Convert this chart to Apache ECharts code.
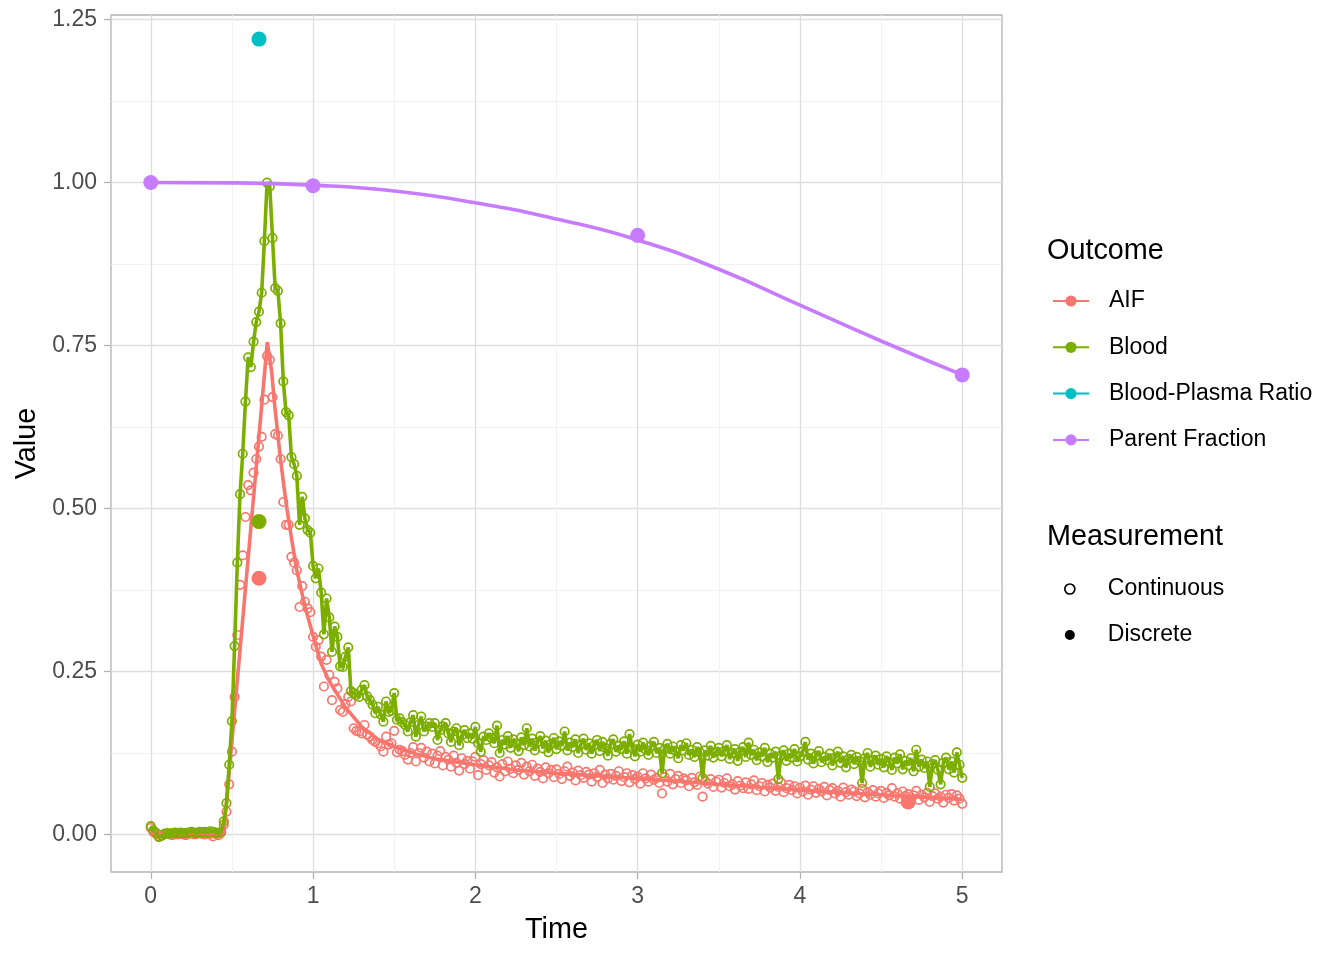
<!DOCTYPE html>
<html>
<head>
<meta charset="utf-8">
<title>AIF, blood and parent fraction</title>
<script src="https://cdn.jsdelivr.net/npm/echarts@6/dist/echarts.min.js"></script>
<style>
html, body { margin: 0; padding: 0; background: #fff; }
#main { width: 1344px; height: 960px; }
</style>
</head>
<body>
<div id="main"></div>
<script>
// continuous sampler: one reading per second, time in minutes
var sampleStart = 0;
var sampleStep = 1 / 60;

var aifContinuous = [
  0.010, 0.004, 0.001, -0.003, -0.001, 0.000, 0.001, 0.000, -0.001, 0.001,
  0.000, 0.001, 0.000, -0.001, 0.001, 0.002, 0.000, 0.001, 0.002, 0.001,
  0.000, 0.002, 0.001, -0.003, 0.001, -0.001, 0.003, 0.015, 0.035, 0.077,
  0.127, 0.211, 0.306, 0.383, 0.428, 0.487, 0.536, 0.528, 0.555, 0.576,
  0.595, 0.610, 0.667, 0.734, 0.728, 0.671, 0.614, 0.612, 0.576, 0.510,
  0.475, 0.475, 0.426, 0.417, 0.405, 0.349, 0.381, 0.357, 0.347, 0.341,
  0.303, 0.288, 0.298, 0.273, 0.227, 0.268, 0.245, 0.206, 0.234, 0.224,
  0.191, 0.188, 0.200, 0.211, 0.204, 0.163, 0.159, 0.158, 0.155, 0.168,
  0.153, 0.150, 0.145, 0.142, 0.140, 0.135, 0.127, 0.150, 0.138, 0.140,
  0.159, 0.126, 0.130, 0.128, 0.122, 0.115, 0.125, 0.134, 0.112, 0.125,
  0.133, 0.118, 0.127, 0.112, 0.124, 0.109, 0.121, 0.128, 0.106, 0.119,
  0.115, 0.104, 0.121, 0.110, 0.098, 0.117, 0.108, 0.113, 0.101, 0.112,
  0.119, 0.091, 0.108, 0.114, 0.099, 0.106, 0.111, 0.095, 0.103, 0.089,
  0.108, 0.097, 0.112, 0.101, 0.094, 0.106, 0.099, 0.110, 0.092, 0.104,
  0.097, 0.107, 0.090, 0.101, 0.096, 0.086, 0.103, 0.094, 0.099, 0.088,
  0.100, 0.093, 0.085, 0.097, 0.104, 0.090, 0.095, 0.083, 0.098, 0.091,
  0.087, 0.096, 0.092, 0.081, 0.094, 0.088, 0.099, 0.079, 0.092, 0.086,
  0.093, 0.084, 0.090, 0.097, 0.082, 0.088, 0.094, 0.080, 0.091, 0.085,
  0.089, 0.078, 0.094, 0.086, 0.081, 0.092, 0.084, 0.087, 0.079, 0.063,
  0.088, 0.081, 0.093, 0.077, 0.085, 0.090, 0.079, 0.086, 0.083, 0.074,
  0.087, 0.080, 0.076, 0.089, 0.058, 0.082, 0.078, 0.085, 0.073, 0.081,
  0.084, 0.072, 0.079, 0.086, 0.074, 0.077, 0.069, 0.082, 0.075, 0.071,
  0.080, 0.070, 0.077, 0.083, 0.068, 0.074, 0.079, 0.066, 0.076, 0.072,
  0.078, 0.067, 0.073, 0.080, 0.065, 0.071, 0.076, 0.068, 0.074, 0.063,
  0.072, 0.066, 0.075, 0.061, 0.069, 0.074, 0.064, 0.070, 0.066, 0.073,
  0.060, 0.068, 0.071, 0.063, 0.067, 0.058, 0.072, 0.065, 0.061, 0.069,
  0.066, 0.059, 0.063, 0.070, 0.057, 0.065, 0.061, 0.068, 0.058, 0.063,
  0.067, 0.056, 0.064, 0.060, 0.071, 0.058, 0.063, 0.055, 0.066, 0.059,
  0.062, 0.054, 0.060, 0.067, 0.053, 0.061, 0.057, 0.064, 0.050, 0.059,
  0.063, 0.055, 0.058, 0.049, 0.061, 0.056, 0.062, 0.052, 0.060, 0.055,
  0.047
];

var bloodContinuous = [
  0.013, 0.006, 0.002, -0.004, -0.002, 0.001, 0.002, 0.001, 0.002, 0.003,
  0.002, 0.003, 0.002, 0.002, 0.003, 0.004, 0.003, 0.002, 0.004, 0.003,
  0.004, 0.003, 0.005, 0.004, 0.003, 0.002, 0.004, 0.020, 0.048, 0.107,
  0.174, 0.289, 0.417, 0.522, 0.584, 0.664, 0.732, 0.717, 0.756, 0.786,
  0.802, 0.831, 0.910, 1.000, 0.994, 0.915, 0.838, 0.834, 0.784, 0.695,
  0.648, 0.643, 0.579, 0.568, 0.550, 0.475, 0.518, 0.485, 0.467, 0.463,
  0.412, 0.393, 0.408, 0.371, 0.307, 0.362, 0.333, 0.280, 0.319, 0.303,
  0.258, 0.257, 0.273, 0.287, 0.220, 0.217, 0.214, 0.211, 0.222, 0.229,
  0.212, 0.206, 0.199, 0.186, 0.196, 0.184, 0.173, 0.204, 0.188, 0.190,
  0.217, 0.176, 0.178, 0.172, 0.168, 0.158, 0.172, 0.183, 0.150, 0.168,
  0.181, 0.158, 0.166, 0.171, 0.165, 0.171, 0.145, 0.160, 0.166, 0.171,
  0.155, 0.142, 0.158, 0.163, 0.137, 0.152, 0.160, 0.148, 0.155, 0.147,
  0.165, 0.140, 0.127, 0.150, 0.145, 0.155, 0.148, 0.140, 0.167, 0.125,
  0.145, 0.138, 0.151, 0.133, 0.146, 0.140, 0.128, 0.149, 0.137, 0.163,
  0.135, 0.147, 0.129, 0.142, 0.151, 0.132, 0.144, 0.126, 0.139, 0.148,
  0.131, 0.143, 0.136, 0.158, 0.129, 0.141, 0.134, 0.146, 0.125, 0.138,
  0.147, 0.130, 0.140, 0.124, 0.137, 0.145, 0.128, 0.142, 0.133, 0.121,
  0.139, 0.146, 0.127, 0.136, 0.131, 0.143, 0.124, 0.154, 0.132, 0.120,
  0.138, 0.127, 0.141, 0.130, 0.122, 0.136, 0.142, 0.125, 0.133, 0.094,
  0.131, 0.139, 0.124, 0.135, 0.128, 0.117, 0.137, 0.129, 0.140, 0.122,
  0.130, 0.119, 0.134, 0.126, 0.087, 0.129, 0.121, 0.136, 0.118, 0.127,
  0.133, 0.120, 0.128, 0.137, 0.116, 0.125, 0.131, 0.113, 0.127, 0.134,
  0.119, 0.141, 0.122, 0.130, 0.114, 0.126, 0.120, 0.133, 0.111, 0.124,
  0.118, 0.127, 0.085, 0.121, 0.129, 0.113, 0.124, 0.118, 0.131, 0.112,
  0.120, 0.127, 0.142, 0.115, 0.124, 0.109, 0.121, 0.128, 0.111, 0.119,
  0.114, 0.124, 0.106, 0.118, 0.127, 0.110, 0.120, 0.103, 0.116, 0.122,
  0.108, 0.119, 0.113, 0.079, 0.117, 0.125, 0.104, 0.114, 0.121, 0.107,
  0.116, 0.103, 0.120, 0.111, 0.099, 0.118, 0.109, 0.123, 0.100, 0.113,
  0.106, 0.117, 0.097, 0.130, 0.104, 0.115, 0.102, 0.112, 0.073, 0.108,
  0.114, 0.099, 0.077, 0.110, 0.118, 0.100, 0.112, 0.095, 0.126, 0.107,
  0.087
];

// fitted AIF curve
var aifFitTime  = [0, 0.45, 0.718, 0.745, 0.76, 0.78, 0.80, 0.82, 0.84, 0.87, 0.90, 0.95, 1.00, 1.05, 1.10, 1.20, 1.30, 1.40, 1.50, 1.60, 1.75, 2.00, 2.25, 2.50, 2.75, 3.00, 3.50, 4.00, 4.50, 5.00];
var aifFitValue = [0.002, 0.002, 0.755, 0.71, 0.667, 0.62, 0.575, 0.535, 0.498, 0.45, 0.405, 0.35, 0.305, 0.262, 0.235, 0.195, 0.165, 0.146, 0.135, 0.126, 0.116, 0.107, 0.099, 0.094, 0.090, 0.086, 0.077, 0.068, 0.061, 0.054];

// fitted parent fraction curve
var parentFitTime  = [0, 0.5, 1, 1.5, 2, 2.5, 3, 3.5, 4, 4.5, 5];
var parentFitValue = [1.0, 0.9995, 0.996, 0.987, 0.969, 0.944, 0.912, 0.867, 0.812, 0.757, 0.705];

// discrete samples
var aifDiscreteTime   = [0.667, 4.667];
var aifDiscreteValue  = [0.393, 0.050];
var bloodDiscreteTime  = [0.667];
var bloodDiscreteValue = [0.480];
var ratioTime  = [0.667];
var ratioValue = [1.220];
var parentTime  = [0, 1, 3, 5];
var parentValue = [1.000, 0.995, 0.919, 0.705];

var xTicks = [0, 1, 2, 3, 4, 5];
var xMinorTicks = [0.5, 1.5, 2.5, 3.5, 4.5];
var yTicks = [0, 0.25, 0.5, 0.75, 1, 1.25];
var yMinorTicks = [0.125, 0.375, 0.625, 0.875, 1.125];

var colAIF = '#F8766D', colBlood = '#7CAE00', colRatio = '#00BFC4', colParent = '#C77CFF';
var fontFam = '"Liberation Sans", Arial, Helvetica, sans-serif';
var lineW = 3.6;

function pairs(xs, ys) {
    return ys.map(function (v, i) { return [xs[i], v]; });
}
var contTime = aifContinuous.map(function (v, i) { return sampleStart + i * sampleStep; });

var xMin = -0.245, xMax = 5.245, yMin = -0.0575, yMax = 1.257;

var myChart = echarts.init(document.getElementById('main'));

var option = {
    animation: false,
    backgroundColor: '#fff',
    textStyle: { fontFamily: fontFam },
    grid: {
        left: 111, top: 15, width: 891, height: 857,
        show: true, backgroundColor: '#fff',
        borderColor: '#B3B3B3', borderWidth: 1.3
    },
    xAxis: [{
        type: 'value', min: xMin, max: xMax,
        name: 'Time', nameLocation: 'middle', nameGap: 44,
        nameTextStyle: { fontSize: 28.8, color: '#000', fontFamily: fontFam },
        axisLine: { show: false, onZero: false },
        axisTick: { show: true, length: 7, customValues: xTicks, lineStyle: { color: '#B3B3B3', width: 1.3 } },
        axisLabel: { customValues: xTicks, fontSize: 23, color: '#4D4D4D', margin: 13, fontFamily: fontFam },
        splitLine: { show: true, lineStyle: { color: '#DEDEDE', width: 1.3 } }
    }, {
        // minor grid
        type: 'value', min: xMin, max: xMax, position: 'bottom',
        axisLine: { show: false, onZero: false },
        axisTick: { show: false, customValues: xMinorTicks },
        axisLabel: { show: false, customValues: xMinorTicks },
        splitLine: { show: true, lineStyle: { color: '#EFEFEF', width: 0.9 } }
    }],
    yAxis: [{
        type: 'value', min: yMin, max: yMax,
        name: 'Value', nameLocation: 'middle', nameGap: 67,
        nameTextStyle: { fontSize: 28.8, color: '#000', fontFamily: fontFam },
        axisLine: { show: false, onZero: false },
        axisTick: { show: true, length: 7, customValues: yTicks, lineStyle: { color: '#B3B3B3', width: 1.3 } },
        axisLabel: {
            customValues: yTicks, fontSize: 23, color: '#4D4D4D', margin: 14, fontFamily: fontFam,
            lineHeight: 27, verticalAlign: 'middle', padding: [5, 0, 0, 0],
            formatter: function (v) { return v.toFixed(2); }
        },
        splitLine: { show: true, lineStyle: { color: '#DEDEDE', width: 1.3 } }
    }, {
        type: 'value', min: yMin, max: yMax, position: 'left',
        axisLine: { show: false, onZero: false },
        axisTick: { show: false, customValues: yMinorTicks },
        axisLabel: { show: false, customValues: yMinorTicks },
        splitLine: { show: true, lineStyle: { color: '#EFEFEF', width: 0.9 } }
    }],
    legend: [{
        orient: 'vertical', left: 1052, top: 289.5, padding: 0,
        itemGap: 23.3, itemWidth: 36, itemHeight: 14, selectedMode: false,
        data: ['AIF', 'Blood', 'Blood-Plasma Ratio', 'Parent Fraction'],
        textStyle: { fontSize: 23, lineHeight: 23, color: '#000', fontFamily: fontFam, padding: [0, 0, 0, 15] }
    }, {
        orient: 'vertical', left: 1064, top: 577.5, padding: 0,
        itemGap: 23, itemWidth: 36, itemHeight: 10, selectedMode: false,
        data: [
            { name: 'Continuous', icon: 'circle', itemStyle: { color: 'rgba(0,0,0,0)', borderColor: '#000', borderWidth: 1.7, opacity: 1 } },
            { name: 'Discrete', icon: 'circle', itemStyle: { color: '#000', borderWidth: 0, opacity: 1 } }
        ],
        textStyle: { fontSize: 23, lineHeight: 23, color: '#000', fontFamily: fontFam, padding: [0, 0, 0, 15] }
    }],
    graphic: [
        { type: 'text', x: 1047, y: 251, style: { text: 'Outcome', fontSize: 28.8, fontFamily: fontFam, fill: '#000', verticalAlign: 'middle' } },
        { type: 'text', x: 1047, y: 537, style: { text: 'Measurement', fontSize: 28.8, fontFamily: fontFam, fill: '#000', verticalAlign: 'middle' } }
    ],
    series: [
        {
            name: 'AIF', type: 'line', data: pairs(aifFitTime, aifFitValue),
            symbol: 'circle', showSymbol: false, z: 3, silent: true,
            lineStyle: { width: lineW, color: colAIF }, itemStyle: { color: colAIF }
        },
        {
            name: 'Blood', type: 'line', data: pairs(contTime, bloodContinuous),
            symbol: 'circle', showSymbol: false, z: 3, silent: true,
            lineStyle: { width: lineW, color: colBlood }, itemStyle: { color: colBlood }
        },
        {
            name: 'Blood-Plasma Ratio', type: 'line', data: pairs(ratioTime, ratioValue),
            symbol: 'circle', symbolSize: 15, showSymbol: true, z: 4, silent: true,
            lineStyle: { width: lineW, color: colRatio }, itemStyle: { color: colRatio }
        },
        {
            name: 'Parent Fraction', type: 'line', smooth: true, data: pairs(parentFitTime, parentFitValue),
            symbol: 'circle', showSymbol: false, z: 3, silent: true,
            lineStyle: { width: lineW, color: colParent }, itemStyle: { color: colParent }
        },
        {
            name: 'Continuous', type: 'scatter', data: pairs(contTime, aifContinuous),
            symbol: 'circle', symbolSize: 8.5, z: 2, silent: true,
            itemStyle: { color: 'rgba(0,0,0,0)', borderColor: colAIF, borderWidth: 1.7, opacity: 1 }
        },
        {
            name: 'Continuous', type: 'scatter', data: pairs(contTime, bloodContinuous),
            symbol: 'circle', symbolSize: 8.5, z: 2, silent: true,
            itemStyle: { color: 'rgba(0,0,0,0)', borderColor: colBlood, borderWidth: 1.7, opacity: 1 }
        },
        {
            name: 'Discrete', type: 'scatter', data: pairs(aifDiscreteTime, aifDiscreteValue),
            symbol: 'circle', symbolSize: 15, z: 4, silent: true, itemStyle: { color: colAIF, opacity: 1 }
        },
        {
            name: 'Discrete', type: 'scatter', data: pairs(bloodDiscreteTime, bloodDiscreteValue),
            symbol: 'circle', symbolSize: 15, z: 4, silent: true, itemStyle: { color: colBlood, opacity: 1 }
        },
        {
            name: 'Discrete', type: 'scatter', data: pairs(parentTime, parentValue),
            symbol: 'circle', symbolSize: 15, z: 4, silent: true, itemStyle: { color: colParent, opacity: 1 }
        }
    ]
};

myChart.setOption(option);
</script>
</body>
</html>
